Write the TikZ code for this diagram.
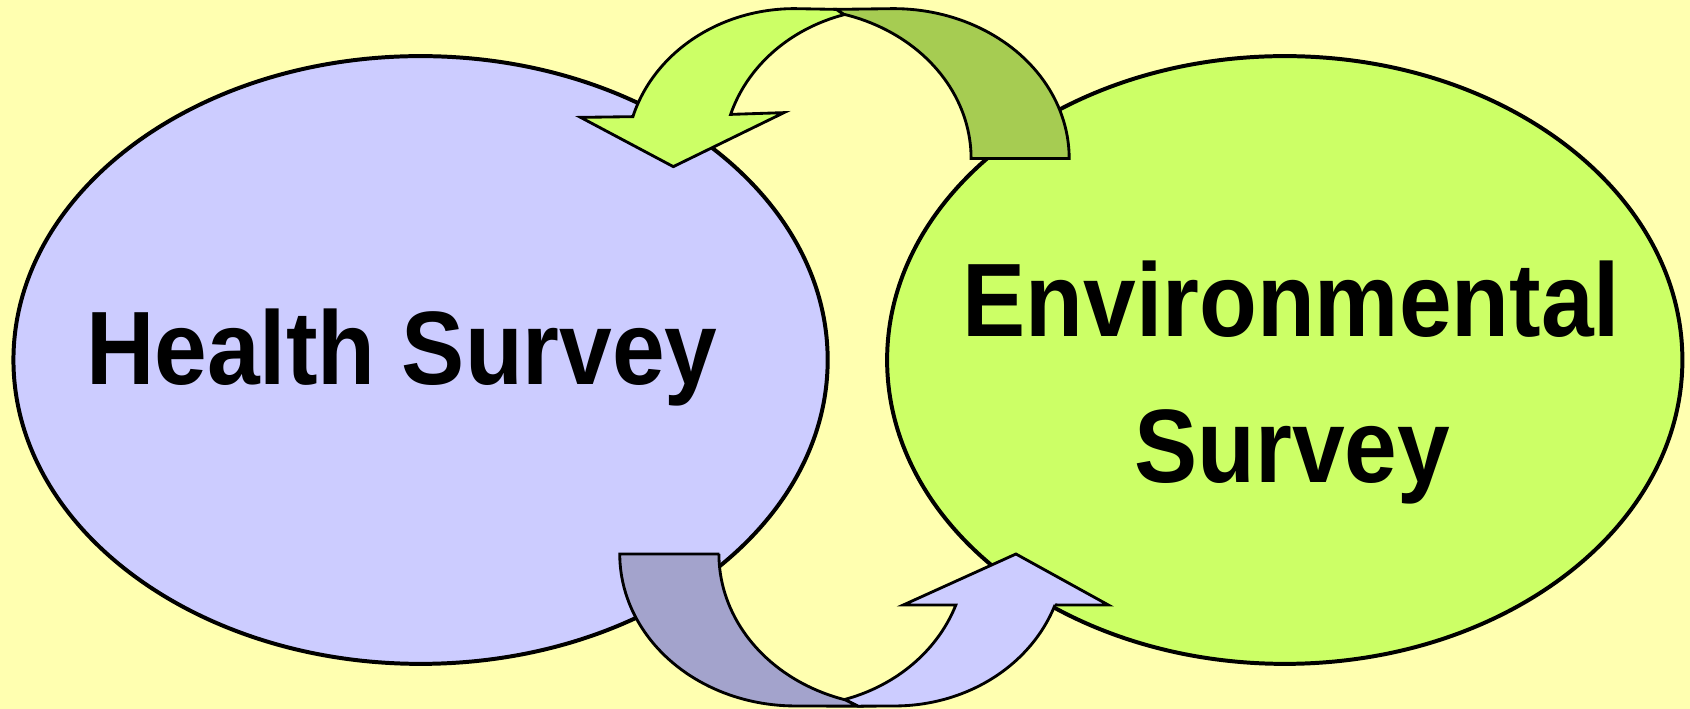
\documentclass[tikz,border=0pt]{standalone}
\usepackage{fontspec}
\setmainfont{Liberation Sans}
\usetikzlibrary{shapes.geometric}
\definecolor{bg}{HTML}{FFFFB0}
\definecolor{blueA}{HTML}{CCCCFF}
\definecolor{blueB}{HTML}{A3A3CC}
\definecolor{greenA}{HTML}{CCFF66}
\definecolor{greenB}{HTML}{A6CC52}
\tikzset{
  bigell/.style={ellipse, draw=black, line width=2.1pt, inner sep=0pt, minimum height=11.28cm},
  lbl/.style={font=\bfseries\fontsize{50}{60}\selectfont, anchor=base, inner sep=0pt, yscale=1.05},
  band/.style={draw=black, line width=1.5pt, line join=miter},
}
\begin{document}
\begin{tikzpicture}[x=0.02cm,y=-0.02cm]
\fill[bg] (0,0) rectangle (1568,657.8);
\useasboundingbox (0,0) rectangle (1568,657.8);

\node[bigell, fill=blueA, minimum width=15.112cm] (health) at (390.2,334) {};
\node[bigell, fill=greenA, minimum width=14.76cm] (env) at (1192,334) {};

\node[lbl] (htext) at (373,357) {\scalebox{1}[1.05]{Health Survey}};
\node[lbl] (etext1) at (1198,312) {\scalebox{1}[1.05]{Environmental}};
\node[lbl] (etext2) at (1199,448) {\scalebox{1}[1.05]{Survey}};

% top arrow: back band (dark green)
\filldraw[band, fill=greenB]
  plot[domain=74.4:0, samples=40, variable=\t] ({739+162*cos(\t)},{147-139*sin(\t)})
  -- plot[domain=0:90, samples=50, variable=\t] ({829+163*cos(\t)},{147-139*sin(\t)})
  -- (776,8.7) -- cycle;
% top arrow: front band with head (light green)
\filldraw[band, fill=greenA]
  plot[domain=163.8:90, samples=50, variable=\t] ({737+156*cos(\t)},{147-139*sin(\t)})
  -- (776,8.7) -- (782.5,13.3)
  -- plot[domain=106.6:162.9, samples=40, variable=\t] ({827+156*cos(\t)},{147-139*sin(\t)})
  -- (727.4,104.5) -- (624.7,154.6) -- (538.7,108.9) -- cycle;

% bottom arrow: front band with head (light blue)
\filldraw[band, fill=blueA]
  plot[domain=73.2:19.6, samples=40, variable=\t] ({738+158*cos(\t)},{514+141*sin(\t)})
  -- (838.1,561.3) -- (942.6,514) -- (1028.3,561.3) -- (978.8,561.3)
  -- plot[domain=19.6:90, samples=50, variable=\t] ({830+158*cos(\t)},{514+141*sin(\t)})
  -- (796,655.2) -- cycle;
% bottom arrow: back band (dark blue)
\filldraw[band, fill=blueB]
  (575.2,514) -- (667.4,514)
  -- plot[domain=180:106.4, samples=40, variable=\t] ({830+163*cos(\t)},{514+141*sin(\t)})
  -- (796,655.2)
  -- plot[domain=90:180, samples=50, variable=\t] ({738+163*cos(\t)},{514+141*sin(\t)})
  -- cycle;
\end{tikzpicture}
\end{document}
